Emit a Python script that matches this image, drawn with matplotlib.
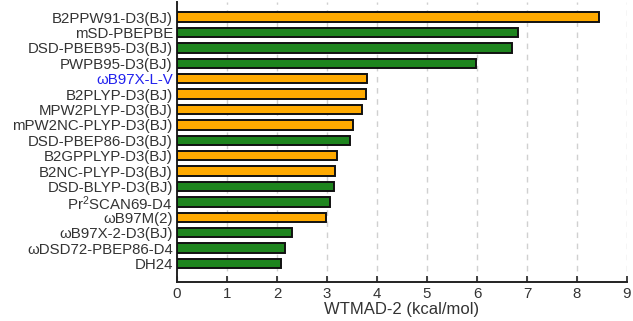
import numpy as np
import matplotlib
matplotlib.use("Agg")
import matplotlib.pyplot as plt

plt.rcParams['font.family'] = ['Liberation Sans', 'DejaVu Sans']
plt.rcParams['mathtext.fontset'] = 'custom'
plt.rcParams['mathtext.rm'] = 'Liberation Sans'
plt.rcParams['mathtext.it'] = 'Liberation Sans'

methods = ['B2PPW91-D3(BJ)', 'mSD-PBEPBE', 'DSD-PBEB95-D3(BJ)', 'PWPB95-D3(BJ)',
           'ωB97X-L-V', 'B2PLYP-D3(BJ)', 'MPW2PLYP-D3(BJ)', 'mPW2NC-PLYP-D3(BJ)',
           'DSD-PBEP86-D3(BJ)', 'B2GPPLYP-D3(BJ)', 'B2NC-PLYP-D3(BJ)', 'DSD-BLYP-D3(BJ)',
           'Pr$^2$SCAN69-D4', 'ωB97M(2)', 'ωB97X-2-D3(BJ)', 'ωDSD72-PBEP86-D4', 'DH24']
wtmad2 = [8.45, 6.83, 6.71, 5.99, 3.81, 3.78, 3.70, 3.53, 3.46, 3.21, 3.17, 3.15,
          3.07, 2.99, 2.31, 2.17, 2.09]
group = ['o', 'g', 'g', 'g', 'o', 'o', 'o', 'o', 'g', 'o', 'o', 'g',
         'g', 'o', 'g', 'g', 'g']

palette = {'o': '#FFAA00', 'g': '#1E851E'}
colors = [palette[g] for g in group]

fig = plt.figure(figsize=(6.33, 3.21), dpi=100)
ax = fig.add_axes([0.2796, 0.1215, 0.7109, 0.8723])

y = np.arange(len(methods))
ax.barh(y, wtmad2, height=0.62, color=colors, edgecolor='#111111', linewidth=1.4, zorder=3)

ax.set_ylim(len(methods) - 1 + 1.2, -0.98)
ax.set_xlim(0, 9)
ax.set_xticks(range(10))
ax.set_yticks(y)
ax.set_yticklabels(methods)

ax.grid(axis='x', color='#d0d0d0', linestyle=(0, (4, 4)), linewidth=1, zorder=0)
ax.set_axisbelow(True)
for s in ['top', 'right']:
    ax.spines[s].set_visible(False)
for s in ['left', 'bottom']:
    ax.spines[s].set_linewidth(1.4)
    ax.spines[s].set_color('#222222')

ax.tick_params(direction='in', length=4, width=1.2, labelsize=10.8, colors='#222222',
               labelcolor='#333333')
ax.tick_params(axis='y', pad=3)
ax.get_yticklabels()[methods.index('ωB97X-L-V')].set_color('#2222EE')
ax.set_xlabel('WTMAD-2 (kcal/mol)', fontsize=12, color='#333333', labelpad=1)

fig.savefig('out.png', dpi=100)
